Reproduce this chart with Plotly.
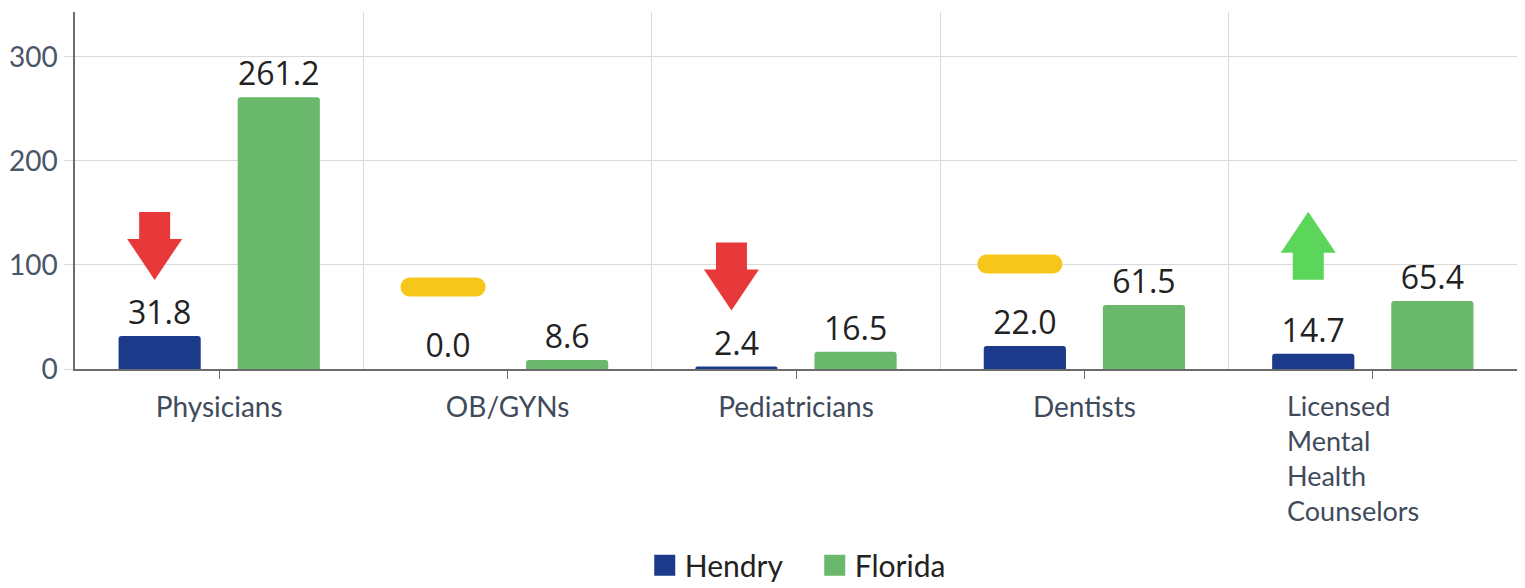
import plotly.graph_objects as go

# ---------------- data ----------------
categories = ["Physicians", "OB/GYNs", "Pediatricians", "Dentists",
              "Licensed Mental Health Counselors"]
hendry = [31.8, 0.0, 2.4, 22.0, 14.7]
florida = [261.2, 8.6, 16.5, 61.5, 65.4]
hendry_trend = ["down", "flat", "down", "flat", "up"]
y_ticks = [0, 100, 200, 300]
series_names = ["Hendry", "Florida"]

# ---------------- style ----------------
HENDRY_COLOR = "#1b3a8a"
FLORIDA_COLOR = "#6ab86b"
GRID = "#dadada"
AXIS = "#6b6b6b"
LABEL_COLOR = "#3f4b5b"
BARGAP = 0.174
BARGROUPGAP = 0.31
Y_MAX = 343
TREND_STYLE = {
    "down": dict(color="#e8393a", center=90),
    "up": dict(color="#5bd65b", center=108),
    "flat": dict(color="#f6c71a", center=82),
}
ICON_XSHIFT = -5


def wrap(label, limit=14):
    return "<br>".join(label.split(" ")) if len(label) > limit else label


def arrow_path(cy, direction, dx):
    sw, hw, half, neck = 15.5, 27.5, 34, 7
    s = 1 if direction == "down" else -1
    top = cy + s * half
    base = cy + s * neck
    tip = cy - s * half
    pts = [(-sw, top), (sw, top), (sw, base), (hw, base), (0, tip),
           (-hw, base), (-sw, base)]
    return "M" + " L".join(f"{px + dx},{py}" for px, py in pts) + " Z"


def pill_path(cy, dx, w=85, h=19):
    r = h / 2
    k = 0.5523 * r
    a = w / 2 - r
    X = lambda v: v + dx
    return (f"M{X(-a)},{cy + r} L{X(a)},{cy + r} "
            f"C{X(a + k)},{cy + r} {X(w / 2)},{cy + k} {X(w / 2)},{cy} "
            f"C{X(w / 2)},{cy - k} {X(a + k)},{cy - r} {X(a)},{cy - r} "
            f"L{X(-a)},{cy - r} "
            f"C{X(-a - k)},{cy - r} {X(-w / 2)},{cy - k} {X(-w / 2)},{cy} "
            f"C{X(-w / 2)},{cy + k} {X(-a - k)},{cy + r} {X(-a)},{cy + r} Z")


x = list(range(len(categories)))
fig = go.Figure()
for name, vals, col in [(series_names[0], hendry, HENDRY_COLOR),
                        (series_names[1], florida, FLORIDA_COLOR)]:
    fig.add_bar(
        x=x, y=vals, name=name, showlegend=False,
        marker=dict(color=col, cornerradius=3, line=dict(width=0)),
        texttemplate="%{y:.1f}", textposition="outside",
        textfont=dict(family="Open Sans", size=32, color="#222222"),
        constraintext="none", cliponaxis=False, hoverinfo="x+y",
    )
    fig.add_scatter(
        x=[None], y=[None], mode="markers", name=name,
        marker=dict(symbol="square", size=30, color=col,
                    line=dict(color=col, width=10)),
    )

# trend icons above Hendry bars (pixel-sized, anchored at each bar top)
hendry_offset = -(1 - BARGAP) / 4
shapes = []
for i, (val, trend) in enumerate(zip(hendry, hendry_trend)):
    st = TREND_STYLE[trend]
    if trend == "flat":
        path = pill_path(st["center"], ICON_XSHIFT)
    else:
        path = arrow_path(st["center"], trend, ICON_XSHIFT)
    shapes.append(dict(
        type="path", xref="x", yref="y", xsizemode="pixel", ysizemode="pixel",
        xanchor=i + hendry_offset, yanchor=val, path=path,
        fillcolor=st["color"], line=dict(width=0), layer="above",
    ))

ticktext = []
annotations = []
for i, c in enumerate(categories):
    lab = wrap(c)
    if "<br>" in lab:
        ticktext.append("")
        annotations.append(dict(
            x=i, y=0, xref="x", yref="y", text=lab, showarrow=False,
            xanchor="center", yanchor="top", align="left", xshift=-20, yshift=-18,
            font=dict(family="Lato", size=27, color=LABEL_COLOR),
        ))
    else:
        ticktext.append(lab)

fig.update_layout(
    width=1517, height=580,
    margin=dict(l=67, r=8, t=4, b=219, autoexpand=False),
    paper_bgcolor="white", plot_bgcolor="white",
    barmode="group", bargap=BARGAP, bargroupgap=BARGROUPGAP,
    shapes=shapes, annotations=annotations,
    legend=dict(orientation="h", x=0.513, xanchor="center", y=-0.55, yref="paper",
                yanchor="middle", font=dict(family="Lato", size=30, color="#222222"),
                itemsizing="trace", entrywidth=125, entrywidthmode="pixels"),
    font=dict(family="Lato"),
)
fig.update_xaxes(
    range=[-0.5, len(categories) - 0.5], tickvals=x, ticktext=ticktext,
    showgrid=False, zeroline=False, showline=True, linecolor=AXIS, linewidth=1.5,
    ticks="outside", ticklen=8, tickcolor=AXIS, ticklabelstandoff=5,
    tickfont=dict(family="Lato", size=28, color=LABEL_COLOR), automargin=False,
    minor=dict(tickvals=[i + 0.5 for i in x[:-1]], showgrid=True, gridcolor=GRID,
               gridwidth=1, ticks=""),
)
fig.update_yaxes(
    range=[0, Y_MAX], tickvals=y_ticks, showgrid=True, gridcolor=GRID, gridwidth=1,
    zeroline=False, showline=True, linecolor=AXIS, linewidth=1.5,
    ticks="outside", ticklen=9, tickcolor=GRID, ticklabelstandoff=1,
    tickfont=dict(family="Lato", size=28, color="#4a5566"), automargin=False,
)

fig.write_html("out.html")
